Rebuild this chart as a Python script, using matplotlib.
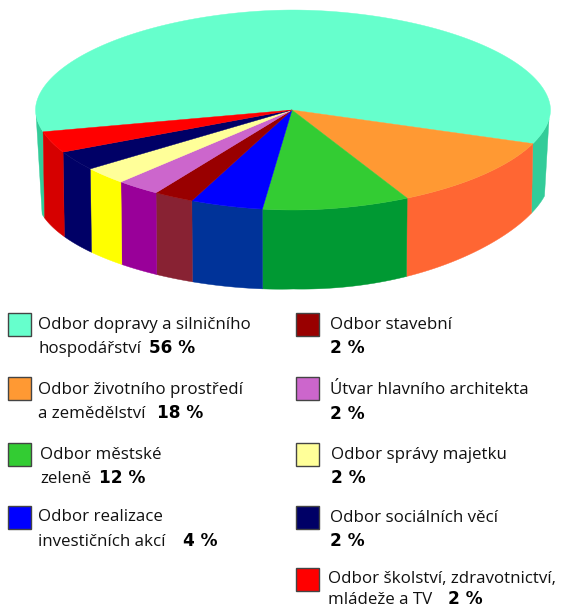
import numpy as np
import matplotlib
matplotlib.use("Agg")
import matplotlib.pyplot as plt

# ---- data ----
categories = ["Odbor dopravy a silničního hospodářství",
              "Odbor životního prostředí a zemědělství",
              "Odbor městské zeleně",
              "Odbor realizace investičních akcí",
              "Odbor stavební",
              "Útvar hlavního architekta",
              "Odbor správy majetku",
              "Odbor sociálních věcí",
              "Odbor školství, zdravotnictví, mládeže a TV"]
percent_labels = [56, 18, 12, 4, 2, 2, 2, 2, 2]
# the drawing is distorted by its perspective: angular spans as drawn, degrees
drawn_span_deg = [214.4, 41.7, 35.1, 16.7, 9.0, 9.7, 9.8, 11.1, 12.5]
top_colors = ["#66FFCC", "#FF9933", "#33CC33", "#0000FF", "#990000",
              "#CC66CC", "#FFFF99", "#000066", "#FF0000"]
wall_colors = ["#33CC99", "#FF6633", "#009933", "#003399", "#882233",
               "#990099", "#FFFF00", "#000066", "#D60000"]

# ---- legend layout ----
legend_lines = [("Odbor dopravy a silničního", "hospodářství"),
                ("Odbor životního prostředí", "a zemědělství"),
                ("Odbor městské", "zeleně"),
                ("Odbor realizace", "investičních akcí"),
                ("Odbor stavební", ""),
                ("Útvar hlavního architekta", ""),
                ("Odbor správy majetku", ""),
                ("Odbor sociálních věcí", ""),
                ("Odbor školství, zdravotnictví,", "mládeže a TV")]
swatch_xy = [(8, 313), (8, 377), (8, 443), (8, 506), (296, 313),
             (296, 377), (296, 443), (296, 506), (296, 568)]
text_x = [38, 38, 40, 38, 330, 330, 331, 330, 328]
base1 = [329, 394, 459, 521, 329, 394, 459, 522, 583]
base2 = [353, 418, 483, 546, 353, 419, 483, 546, 604]
bold_x = [149, 157, 99, 183, 330, 330, 331, 330, 448]

W, H = 563, 606
fig = plt.figure(figsize=(W / 100, H / 100), dpi=100)
ax = fig.add_axes([0, 0, 1, 1])
ax.set_xlim(0, W)
ax.set_ylim(H, 0)
ax.axis("off")

CX, CY, R, RY, P = 293.0, 110.0, 257.5, 100.0, 1.9
BCY, BR, BRY, BP, SHEAR = 190.0, 256.0, 99.0, 1.8, -0.035
RIGHT_BULGE = 5.0


def spow(v, e):
    return np.sign(v) * np.abs(v) ** e


def top_rim(t):
    t = np.radians(t)
    return CX + R * spow(np.cos(t), 2 / P), CY - RY * spow(np.sin(t), 2 / P)


def bottom_rim(t):
    t = np.radians(t)
    x = CX + BR * spow(np.cos(t), 2 / P)
    u = np.clip(np.abs(x - CX) / BR, 0, 1)
    y = BCY + BRY * (1 - u ** BP) ** (1 / BP) + SHEAR * (x - CX)
    y = y + np.where(x > CX, RIGHT_BULGE * np.sin(np.pi * u), 0)
    return x, y


def wall(top_a, top_b, bot_a, bot_b, color):
    tx, ty = top_rim(np.linspace(top_a, top_b, 60))
    bx, by = bottom_rim(np.linspace(bot_b, bot_a, 60))
    ax.fill(np.r_[tx, bx], np.r_[ty, by], facecolor=color, edgecolor=color,
            linewidth=0.3, zorder=2)


START = -20.8
edges = START + np.r_[0, -np.cumsum(drawn_span_deg[1:])]  # clockwise from orange
front_end = edges[-1]

# side walls of the big slice, visible at both ends
wall(START, -6, START, -10.5, wall_colors[0])
wall(front_end, -176, front_end, -168.8, wall_colors[0])
# front walls
for i in range(1, len(drawn_span_deg)):
    a, b = edges[i - 1], edges[i]
    wall(a, b, a, b, wall_colors[i])

# top faces
tx, ty = top_rim(np.linspace(START, START + drawn_span_deg[0], 300))
ax.fill(np.r_[CX - 1, tx], np.r_[CY, ty], facecolor=top_colors[0],
        edgecolor=top_colors[0], linewidth=0.3, zorder=3)
for i in range(1, len(drawn_span_deg)):
    tx, ty = top_rim(np.linspace(edges[i - 1], edges[i], 60))
    ax.fill(np.r_[CX - 1, tx], np.r_[CY, ty], facecolor=top_colors[i],
            edgecolor=top_colors[i], linewidth=0.3, zorder=4)

# legend
REG = dict(family="Open Sans", fontsize=12.2, color="#111111", va="baseline")
BOLD = dict(family="DejaVu Sans", fontweight="bold", fontsize=12.2,
            color="black", va="baseline")
for i, name in enumerate(categories):
    sx, sy = swatch_xy[i]
    ax.add_patch(plt.Rectangle((sx, sy), 23, 23, facecolor=top_colors[i],
                               edgecolor="#444444", linewidth=1, zorder=5))
    l1, l2 = legend_lines[i]
    ax.text(text_x[i], base1[i], l1, **REG)
    if l2:
        ax.text(text_x[i], base2[i], l2, **REG)
    ax.text(bold_x[i], base2[i], f"{percent_labels[i]} %", **BOLD)

fig.savefig("out.png", dpi=100)
